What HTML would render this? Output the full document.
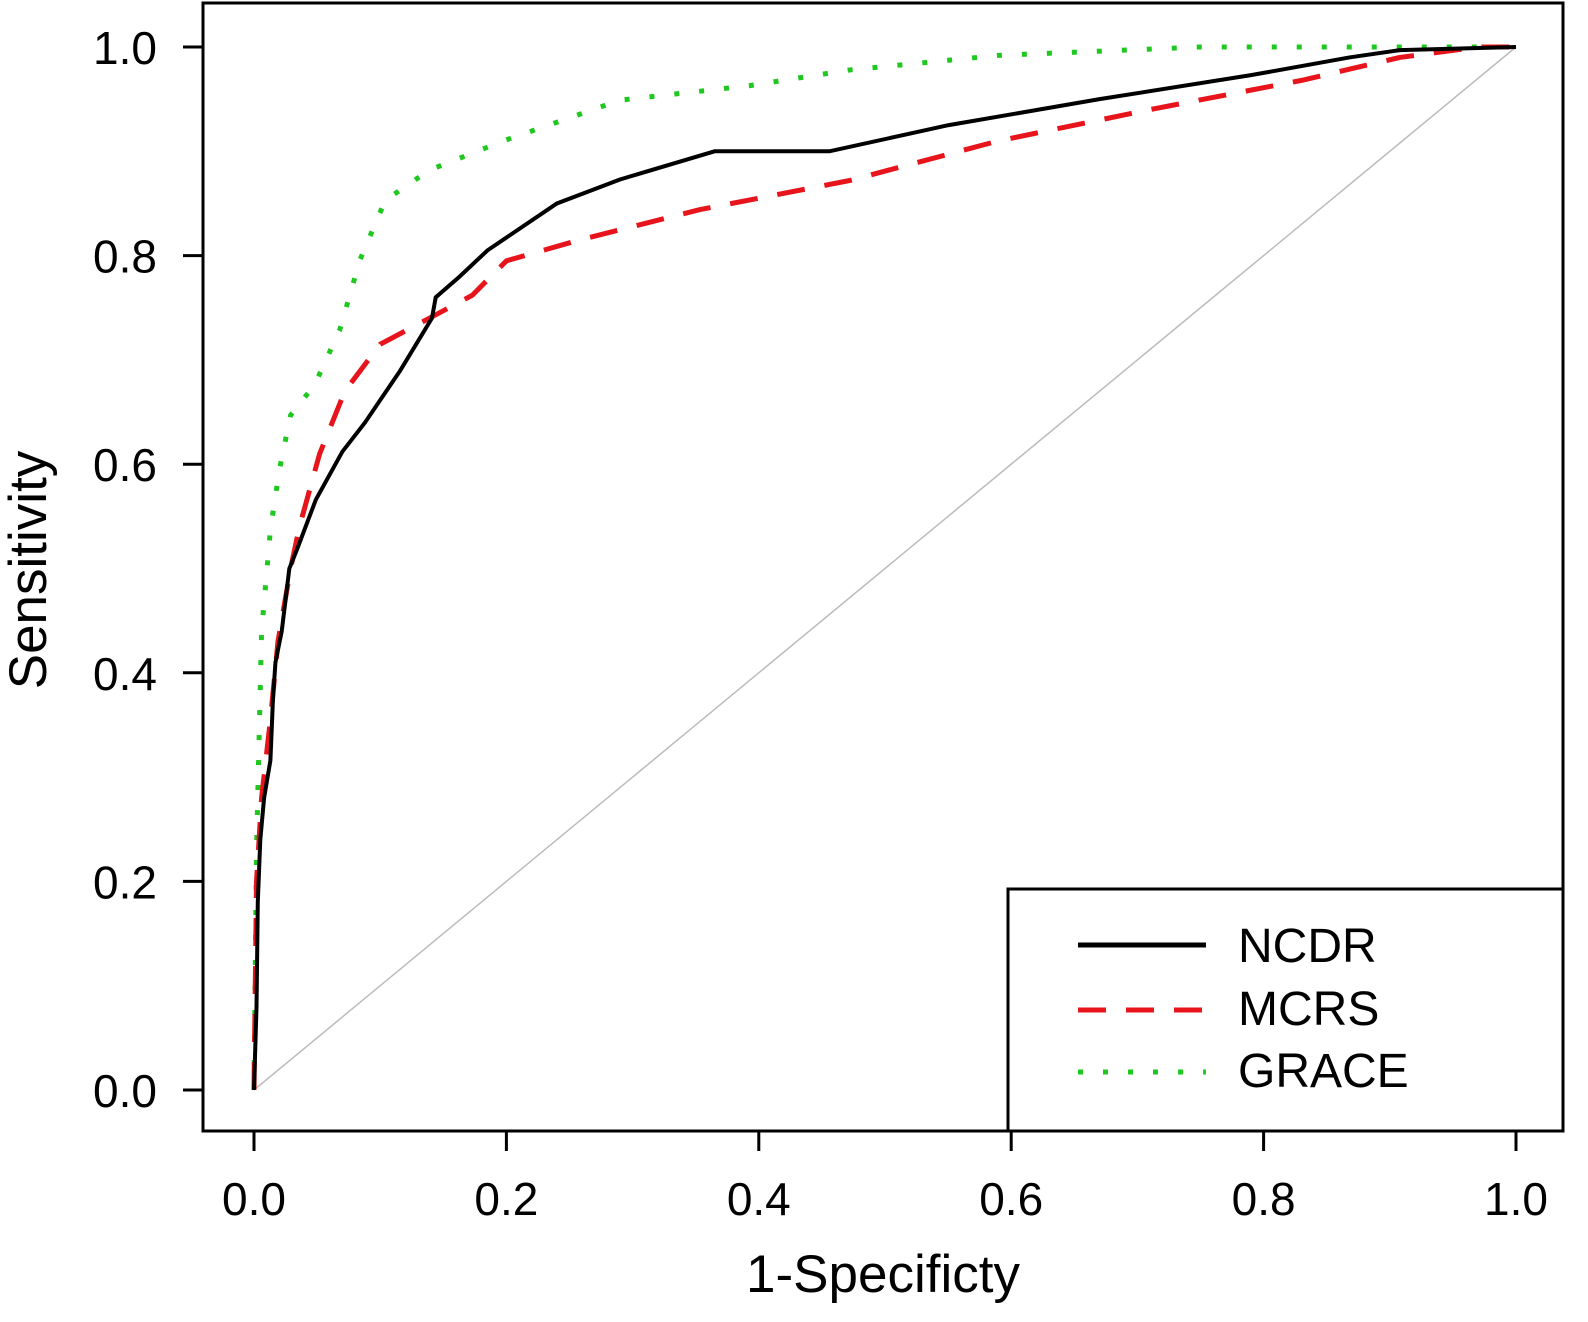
<!DOCTYPE html>
<html><head><meta charset="utf-8"><style>
html,body{margin:0;padding:0;background:#fff;}
svg{display:block;font-family:"Liberation Sans",Arial,sans-serif;}
</style></head><body>
<svg id="chart" width="1588" height="1322" viewBox="0 0 1588 1322" xmlns="http://www.w3.org/2000/svg">
<rect x="203" y="3" width="1360" height="1128" fill="none" stroke="#000" stroke-width="3"/>
<g id="axes"></g>
<g id="series"></g>
<text x="883" y="1292" font-size="53" text-anchor="middle">1-Specificty</text>
<text x="0" y="0" font-size="53" text-anchor="middle" transform="translate(46,570) rotate(-90)">Sensitivity</text>
<g>
<rect x="1008" y="889" width="555" height="242" fill="#fff" stroke="#000" stroke-width="3"/>
<line x1="1078" y1="945" x2="1206" y2="945" stroke="#000" stroke-width="5"/>
<text x="1238" y="962" font-size="48">NCDR</text>
<line x1="1078" y1="1010" x2="1206" y2="1010" stroke="#e8141b" stroke-width="5" stroke-dasharray="28,20"/>
<text x="1238" y="1025" font-size="48">MCRS</text>
<line x1="1078" y1="1072" x2="1206" y2="1072" stroke="#1ec81e" stroke-width="5" stroke-dasharray="5,20"/>
<text x="1238" y="1087" font-size="48">GRACE</text>
</g>
</svg>
<script>
const xTicks=[0,0.2,0.4,0.6,0.8,1.0];
const yTicks=[0,0.2,0.4,0.6,0.8,1.0];
const ncdrX=[0,0.002,0.003,0.005,0.008,0.013,0.015,0.017,0.022,0.028,0.034,0.049,0.07,0.088,0.116,0.141,0.144,0.163,0.185,0.24,0.29,0.365,0.456,0.55,0.67,0.79,0.868,0.908,1];
const ncdrY=[0,0.08,0.18,0.24,0.28,0.316,0.374,0.41,0.44,0.50,0.518,0.566,0.612,0.64,0.69,0.74,0.76,0.78,0.805,0.85,0.873,0.90,0.90,0.925,0.95,0.973,0.99,0.997,1];
const mcrsX=[0,0.002,0.006,0.013,0.019,0.029,0.036,0.052,0.072,0.1,0.139,0.173,0.2,0.258,0.353,0.472,0.59,0.71,0.83,0.908,0.97,1];
const mcrsY=[0,0.2,0.28,0.355,0.43,0.50,0.54,0.61,0.67,0.715,0.74,0.762,0.795,0.815,0.844,0.872,0.91,0.94,0.968,0.99,1.0,1];
const graceX=[0,0.002,0.006,0.013,0.02,0.029,0.048,0.068,0.084,0.104,0.139,0.2,0.29,0.393,0.472,0.59,0.75,1];
const graceY=[0,0.23,0.44,0.537,0.594,0.647,0.676,0.729,0.796,0.853,0.882,0.911,0.949,0.963,0.978,0.992,1.0,1];
const NS='http://www.w3.org/2000/svg';
function sx(v){return 254+1262*v;}
function sy(v){return 1090-1043*v;}
const axes=document.getElementById('axes');
const series=document.getElementById('series');
function mk(tag,attrs,parent){const e=document.createElementNS(NS,tag);for(const k in attrs)e.setAttribute(k,attrs[k]);parent.appendChild(e);return e;}
xTicks.forEach(t=>{
 const l=mk('line',{x1:sx(t),x2:sx(t),y1:1131,y2:1151,stroke:'#000','stroke-width':3},axes);
 
 
 const tx=mk('text',{x:sx(t),y:1215,'font-size':46,'text-anchor':'middle'},axes);
 tx.textContent=t.toFixed(1);
 
 
});
yTicks.forEach(t=>{
 const l=mk('line',{x1:183,x2:203,y1:sy(t),y2:sy(t),stroke:'#000','stroke-width':3},axes);
 
 
 const tx=mk('text',{x:157,y:sy(t)+17,'font-size':46,'text-anchor':'end'},axes);
 tx.textContent=t.toFixed(1);
 
 
});
const diag=mk('line',{x1:sx(0),y1:sy(0),x2:sx(1),y2:sy(1),stroke:'#bbb','stroke-width':1.5},series);


function pts(xs,ys){return xs.map((x,i)=>sx(x)+','+sy(ys[i])).join(' ');}
const g=mk('polyline',{points:pts(graceX,graceY),fill:'none',stroke:'#1ec81e','stroke-width':5,'stroke-dasharray':'5,20'},series);


const m=mk('polyline',{points:pts(mcrsX,mcrsY),fill:'none',stroke:'#e8141b','stroke-width':5,'stroke-dasharray':'28,20'},series);


const n=mk('polyline',{points:pts(ncdrX,ncdrY),fill:'none',stroke:'#000','stroke-width':4},series);


</script>
</body></html>
